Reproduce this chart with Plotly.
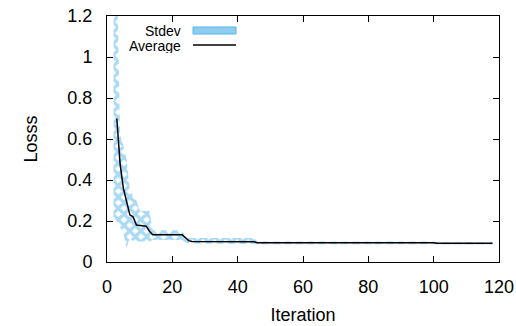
import plotly.graph_objects as go

# iterations with readings
iterations = [3, 4, 5, 6, 7, 8, 9, 12, 13, 14, 23, 25, 26, 45, 46, 100, 101, 118]
average = [0.70, 0.48, 0.36, 0.30, 0.23, 0.22, 0.18, 0.175, 0.15, 0.133, 0.133, 0.104, 0.10,
           0.099, 0.094, 0.094, 0.091, 0.091]

band_iter = [2, 3, 4, 5, 6, 7, 8, 9, 10, 13, 14, 23, 24, 25, 45, 46, 100, 101, 118]
stdev_upper = [1.6, 1.5, 0.62, 0.57, 0.5, 0.35, 0.32, 0.3, 0.25, 0.25, 0.155, 0.155, 0.125,
               0.117, 0.117, 0.10, 0.10, 0.096, 0.096]
stdev_lower = [0.22, 0.2, 0.17, 0.14, 0.07, 0.12, 0.10, 0.10, 0.10, 0.10, 0.107, 0.107, 0.095,
               0.09, 0.088, 0.086, 0.086, 0.085, 0.085]

BLUE = "#56B4E9"
FONT = "Liberation Sans, Arial, sans-serif"

fig = go.Figure()

fig.add_trace(go.Scatter(
    x=band_iter + band_iter[::-1],
    y=stdev_upper + stdev_lower[::-1],
    fill="toself",
    mode="none",
    fillcolor="rgba(0,0,0,0)",
    fillpattern=dict(shape="x", fgcolor=BLUE, bgcolor="rgba(0,0,0,0)", size=8, solidity=0.65),
    name="Stdev",
    showlegend=False,
))

fig.add_trace(go.Scatter(
    x=iterations,
    y=average,
    mode="lines",
    line=dict(color="black", width=1.5),
    name="Average",
    showlegend=False,
))

W, H = 516, 326
L, R, T, B = 107, 17, 16, 64
pw, ph = W - L - R, H - T - B


def px(x):
    # page x pixel -> paper coord
    return (x - L) / pw


def py(y):
    return 1 - (y - T) / ph


# gnuplot-style legend: text on the left, sample on the right
for label, yy in [("Stdev", 30.5), ("Average", 45.5)]:
    fig.add_annotation(
        x=px(183), y=py(yy), xref="paper", yref="paper",
        text=label, showarrow=False, xanchor="right", yanchor="middle",
        font=dict(family=FONT, size=14, color="black"), height=15,
    )
fig.add_shape(type="rect", xref="paper", yref="paper",
              x0=px(193), x1=px(236), y0=py(34), y1=py(27),
              fillcolor="#8fcdf0", line=dict(color=BLUE, width=1))
fig.add_shape(type="line", xref="paper", yref="paper",
              x0=px(193), x1=px(236), y0=py(45), y1=py(45),
              line=dict(color="black", width=1.5))

axis_common = dict(
    showline=True, linecolor="black", linewidth=1, mirror="ticks",
    ticks="inside", ticklen=6, tickcolor="black", showgrid=False, zeroline=False,
    tickfont=dict(family=FONT, size=18, color="black"), automargin=False,
    ticklabeloverflow="allow",
)

fig.update_xaxes(
    range=[0, 120], dtick=20,
    title=dict(text="Iteration", font=dict(family=FONT, size=18, color="black"), standoff=12),
    ticklabelstandoff=8,
    **axis_common,
)
fig.update_yaxes(
    range=[0, 1.2], dtick=0.2,
    title=dict(text="Losss", font=dict(family=FONT, size=18, color="black"), standoff=25),
    ticklabelstandoff=10,
    **axis_common,
)

fig.update_layout(
    width=W, height=H,
    margin=dict(l=L, r=R, t=T, b=B),
    plot_bgcolor="white", paper_bgcolor="white",
    font=dict(family=FONT, color="black"),
)

# drop the default page margin so the figure fills the window exactly
fig.write_html("out.html", config={"displayModeBar": False},
               post_script="document.body.style.margin='0';document.body.style.overflow='hidden';")
